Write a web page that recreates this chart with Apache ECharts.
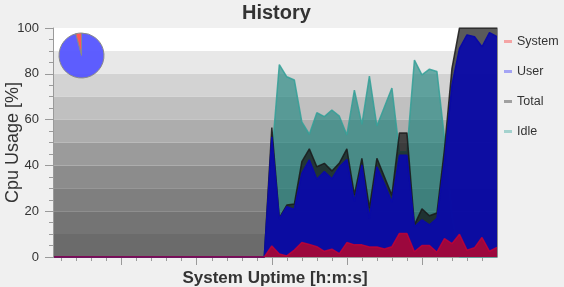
<!DOCTYPE html>
<html><head><meta charset="utf-8">
<script src="https://cdn.jsdelivr.net/npm/echarts@6/dist/echarts.min.js"></script>
<style>html,body{margin:0;padding:0;background:#f0f0f0;}#c{width:564px;height:287px;}</style>
</head><body><div id="c"></div>
<script>
// time stamps (seconds in the visible window)
const seconds = [1,2,3,4,5,6,7,8,9,10,11,12,13,14,15,16,17,18,19,20,21,22,23,24,25,26,27,28,29,30,
  31,32,33,34,35,36,37,38,39,40,41,42,43,44,45,46,47,48,49,50,51,52,53,54,55,56,57,58,59,60];
const systemCpu = [0,0,0,0,0,0,0,0,0,0,0,0,0,0,0,0,0,0,0,0,0,0,0,0,0,0,0,0,
  0,4.8,1.3,0.5,3,6.3,5.5,4.5,2.5,3.4,1.5,6.3,5.3,5.3,4.4,4.4,3.5,4.5,10.3,10.3,2.3,5,5,2.1,8,5.8,9.9,3,4,8.5,2.5,4.2];
const userCpu = [0,0,0,0,0,0,0,0,0,0,0,0,0,0,0,0,0,0,0,0,0,0,0,0,0,0,0,0,
  0,52.5,16.6,22,20.8,36.5,42.4,33.9,37.3,34.1,39.4,42.6,24.2,40.2,16.9,39.4,32,24,44.4,44.4,13.2,16.2,14,16.9,42,75,91,97,96.2,91.8,98,96.2];
const totalCpu = [0,0,0,0,0,0,0,0,0,0,0,0,0,0,0,0,0,0,0,0,0,0,0,0,0,0,0,0,
  0,56.5,17,22.7,23.1,41.6,47.2,39.4,40.9,37.6,41,47.2,27.1,43.1,21.3,43.1,35,27,54.2,54.2,14,21,18,19.2,47,82.4,100,100,100,100,100,100];
const idleCpu = [0,0,0,0,0,0,0,0,0,0,0,0,0,0,0,0,0,0,0,0,0,0,0,0,0,0,0,0,
  0,44,84,78.7,77.3,59,53.6,63,61.3,64.2,61.5,53.3,72.9,57.9,79,57.2,65.5,73.8,46,46,86,79.5,82,81,52,18,0,0,0,0,0,0];
const pieNames = ['System now', 'User now'];
const pieValues = [4.2, 95.8];
const majorTicks = [10,20,30,40,50];
const minorTicks = [2,4,6,8,12,14,16,18,22,24,26,28,32,34,36,38,42,44,46,48,52,54,56,58];
const legendNames = ['System','User','Total','Idle'];

const pairs = arr => seconds.map((t,i)=>[t, arr[i]]);
const FONT = 'Liberation Sans, Arial, sans-serif';
const chart = echarts.init(document.getElementById('c'), null, {renderer:'canvas'});
const axisGray = '#9a9a9a';
chart.setOption({
  animation:false,
  backgroundColor:'#f0f0f0',
  title:{text:'History', left:242, top:3, padding:0, textStyle:{fontFamily:FONT, fontSize:20, fontWeight:'bold', color:'#333'}},
  legend:{orient:'vertical', left:504, top:35, padding:0, itemGap:17, itemWidth:8, itemHeight:3, icon:'rect',
    textStyle:{fontFamily:FONT, fontSize:12.5, color:'#333'},
    data:[
      {name:legendNames[0], itemStyle:{color:'#f4a4a4'}},
      {name:legendNames[1], itemStyle:{color:'#a4a4f4'}},
      {name:legendNames[2], itemStyle:{color:'#a0a0a0'}},
      {name:legendNames[3], itemStyle:{color:'#a4d2ce'}}
    ]},
  grid:{left:53, top:28, width:444, height:229, outerBoundsMode:'none', containLabel:false},
  xAxis:[
    {type:'value', min:0.85, max:60, position:'bottom',
     name:'System Uptime [h:m:s]', nameLocation:'middle', nameGap:13, nameMoveOverlap:false,
     nameTextStyle:{fontFamily:FONT, fontSize:17, fontWeight:'bold', color:'#333', verticalAlign:'top'},
     axisLine:{show:true, lineStyle:{color:axisGray, width:1}},
     axisTick:{show:true, length:8, lineStyle:{color:axisGray}, customValues:majorTicks},
     axisLabel:{show:false}, splitLine:{show:false}},
    {type:'value', min:0.85, max:60, position:'bottom', offset:0,
     axisLine:{show:false},
     axisTick:{show:true, length:4, lineStyle:{color:axisGray}, customValues:minorTicks},
     axisLabel:{show:false}, splitLine:{show:false}}
  ],
  yAxis:[
    {type:'value', min:0, max:100, interval:20, position:'left',
     name:'Cpu Usage [%]', nameLocation:'middle', nameGap:31, nameMoveOverlap:false,
     nameTextStyle:{fontFamily:FONT, fontSize:18, color:'#333'},
     axisLine:{show:true, lineStyle:{color:axisGray, width:1}},
     axisTick:{show:true, length:8, lineStyle:{color:axisGray}},
     minorTick:{show:true, splitNumber:4, length:4, lineStyle:{color:axisGray}},
     axisLabel:{fontFamily:FONT, fontSize:13, color:'#333', margin:14},
     splitLine:{show:false}},
    {type:'value', min:0, max:100, interval:10, position:'left',
     axisLine:{show:false}, axisTick:{show:false}, axisLabel:{show:false}, splitLine:{show:false},
     splitArea:{show:true, areaStyle:{color:['#6b6b6b','#747474','#7f7f7f','#8c8c8c','#9b9b9b','#adadad','#c0c0c0','#d3d3d3','#e8e8e8','#ffffff']}}},
    {type:'value', min:0, max:100, position:'right', z:9,
     axisLine:{show:true, lineStyle:{color:'#8c8c8c', width:1}}, axisTick:{show:false}, axisLabel:{show:false}, splitLine:{show:false}}
  ],
  series:[
    {name:'Idle', type:'line', z:2, data:pairs(idleCpu), showSymbol:false, symbol:'none',
     lineStyle:{color:'rgba(50,160,152,0.85)', width:1.5}, areaStyle:{color:'rgba(18,128,122,0.6)', opacity:1}},
    {name:'Total', type:'line', z:3, data:pairs(totalCpu), showSymbol:false, symbol:'none',
     lineStyle:{color:'rgba(25,25,25,0.85)', width:1.5}, areaStyle:{color:'rgba(20,20,20,0.7)', opacity:1}},
    {name:'User', type:'line', z:4, data:pairs(userCpu), showSymbol:false, symbol:'none',
     lineStyle:{color:'rgba(10,10,165,1)', width:1.5}, areaStyle:{color:'rgba(10,10,170,0.93)', opacity:1}},
    {name:'System', type:'line', z:5, data:pairs(systemCpu), showSymbol:false, symbol:'none',
     lineStyle:{color:'rgba(200,0,50,0.8)', width:1.5}, areaStyle:{color:'rgba(245,5,0,0.62)', opacity:1}},
    {name:'Now', type:'pie', z:6, center:[81.5,55.5], radius:22.5, startAngle:90, clockwise:false,
     label:{show:false}, labelLine:{show:false}, silent:true,
     itemStyle:{borderColor:'#8a8a8a', borderWidth:1},
     data:[{name:pieNames[0], value:pieValues[0], itemStyle:{color:'rgba(255,70,70,0.9)'}},
           {name:pieNames[1], value:pieValues[1], itemStyle:{color:'rgba(80,80,255,0.92)'}}]}
  ]
});
</script></body></html>
